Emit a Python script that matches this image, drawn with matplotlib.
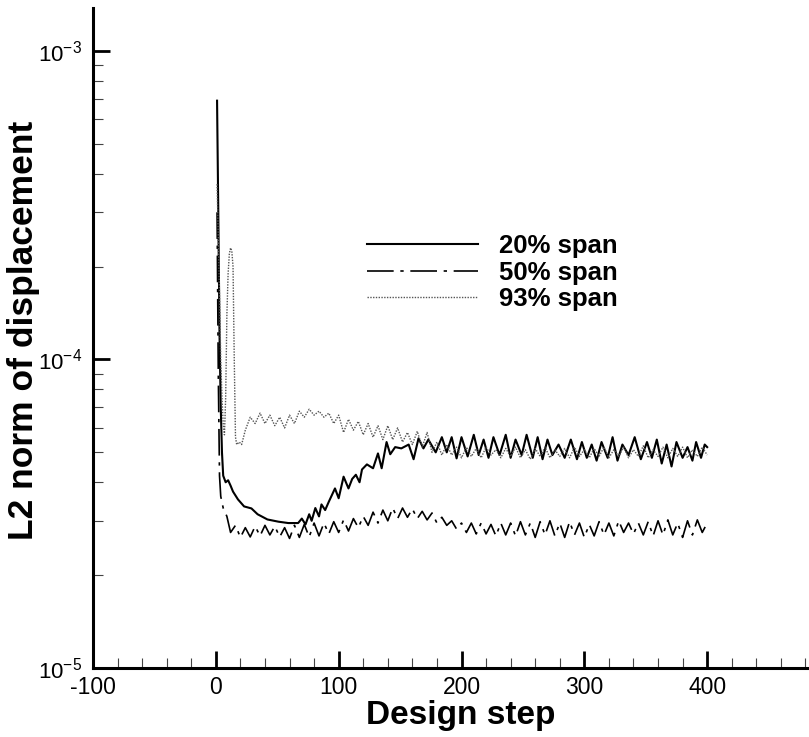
import numpy as np
import matplotlib
matplotlib.use("Agg")
import matplotlib.pyplot as plt
from matplotlib.ticker import MultipleLocator, LogLocator, FuncFormatter

# values, in units of 1e-5
# 20% span
s20_step = [1, 2, 3, 4, 5, 6, 8, 10, 12, 14,
            18, 23, 29, 34, 42, 51, 59, 67, 70, 73,
            76, 78, 81, 84, 86, 89, 92, 97, 100, 104,
            108, 111, 114, 117, 119, 123, 128, 132, 135, 139,
            142, 146, 151, 157, 161, 165, 169, 173, 179, 184,
            188, 192, 196, 200, 205, 210, 214, 218, 222, 226,
            231, 236, 240, 244, 249, 253, 258, 262, 266, 270,
            274, 279, 284, 289, 294, 298, 302, 306, 310, 314,
            319, 323, 327, 331, 336, 341, 346, 351, 355, 359,
            363, 367, 371, 375, 380, 384, 388, 391, 395, 398,
            400]
s20_val = [69, 30, 12, 7.0, 5.0, 4.2, 4.0, 4.06, 3.9, 3.73,
           3.52, 3.34, 3.29, 3.15, 3.03, 2.98, 2.95, 2.95, 3.05, 2.92,
           3.15, 3.0, 3.3, 3.1, 3.39, 3.25, 3.46, 3.82, 3.55, 4.17,
           3.82, 4.1, 4.23, 4.0, 4.4, 4.57, 4.44, 4.96, 4.44, 5.4,
           4.93, 5.2, 5.15, 5.3, 4.75, 5.55, 5.15, 5.5, 5.0, 5.6,
           5.0, 5.6, 4.78, 5.6, 4.85, 5.7, 4.9, 5.5, 4.8, 5.6,
           4.9, 5.7, 4.8, 5.5, 4.9, 5.7, 4.8, 5.6, 4.75, 5.5,
           4.9, 5.3, 4.8, 5.5, 4.75, 5.4, 4.8, 5.3, 4.7, 5.4,
           4.8, 5.6, 4.7, 5.3, 4.9, 5.6, 4.75, 5.4, 4.8, 5.5,
           4.6, 5.3, 4.5, 5.4, 4.8, 5.2, 4.7, 5.4, 4.8, 5.3,
           5.2]

# 50% span
s50_head_step = [1, 2, 3, 4, 6, 9]
s50_head_val = [30, 9, 4.2, 3.6, 3.3, 3.1]
s50_tail_step = list(range(12, 401, 4))
s50_tail_val = [2.75, 2.9, 2.65, 2.85, 2.66, 2.88, 2.68, 2.9, 2.7, 2.88,
                2.66, 2.85, 2.63, 2.9, 2.65, 2.92, 2.66, 2.95, 2.68, 2.95,
                2.72, 2.98, 2.75, 3.02, 2.78, 3.05, 2.85, 3.1, 2.9, 3.2,
                2.95, 3.25, 3.0, 3.3, 3.05, 3.3, 3.08, 3.28, 3.05, 3.22,
                3.02, 3.18, 2.95, 3.08, 2.9, 3.0, 2.82, 2.95, 2.75, 2.95,
                2.72, 2.95, 2.72, 2.92, 2.68, 2.95, 2.7, 2.95, 2.68, 2.98,
                2.7, 2.95, 2.65, 2.98, 2.7, 3.0, 2.68, 2.95, 2.65, 2.98,
                2.7, 2.95, 2.65, 2.92, 2.68, 2.98, 2.7, 2.95, 2.68, 3.0,
                2.75, 2.95, 2.72, 2.95, 2.7, 2.98, 2.68, 3.0, 2.7, 3.02,
                2.7, 2.95, 2.65, 3.0, 2.7, 3.02, 2.75, 2.95]

# 93% span
s93_head_step = [1, 2, 3, 4, 5, 6, 7, 8, 9, 10,
                 11, 12, 13, 14, 15, 16, 17, 19, 21]
s93_head_val = [37, 25, 16, 10, 7.5, 6.2, 5.7, 7.5, 14, 19,
                22, 23, 22.5, 20, 10, 5.6, 5.3, 5.4, 5.3]
s93_tail_step = list(range(24, 401, 4))
s93_tail_val = [5.9, 6.5, 6.2, 6.7, 6.2, 6.6, 6.1, 6.5, 6.0, 6.6,
                6.2, 6.8, 6.5, 6.9, 6.6, 6.8, 6.5, 6.7, 6.2, 6.6,
                5.8, 6.4, 5.9, 6.3, 5.7, 6.2, 5.6, 6.1, 5.5, 6.1,
                5.5, 6.0, 5.4, 5.8, 5.3, 5.85, 5.2, 5.8, 5.0, 5.4,
                4.9, 5.3, 4.9, 5.2, 4.8, 5.2, 4.85, 5.15, 4.8, 5.2,
                4.9, 5.1, 4.8, 5.15, 4.85, 5.2, 4.8, 5.1, 4.75, 5.15,
                4.85, 5.2, 4.8, 5.1, 4.85, 5.15, 4.8, 5.2, 4.85, 5.1,
                4.8, 5.15, 4.85, 5.2, 4.8, 5.1, 4.85, 5.2, 4.8, 5.1,
                4.85, 5.25, 4.8, 5.1, 4.85, 5.2, 4.8, 5.15, 4.85, 5.2,
                4.8, 5.1, 4.85, 5.2, 4.9]

labels = ["20% span", "50% span", "93% span"]

plt.rcParams['font.family'] = ['Liberation Sans', 'DejaVu Sans']
plt.rcParams['mathtext.default'] = 'regular'
plt.rcParams['axes.unicode_minus'] = False

fig = plt.figure(figsize=(8.09, 7.37), dpi=100)
# axis runs to step 500, past the right edge of the picture
ax = fig.add_axes([93 / 809, 69 / 737, (830 - 93) / 809, (668 - 8) / 737])

x20 = np.array(s20_step)
y20 = np.array(s20_val) * 1e-5
x50 = np.array(s50_head_step + s50_tail_step)
y50 = np.array(s50_head_val + s50_tail_val) * 1e-5
x93 = np.array(s93_head_step + s93_tail_step)
y93 = np.array(s93_head_val + s93_tail_val) * 1e-5

ax.plot(x20, y20, color='black', lw=1.5, label=labels[0])
ax.plot(x50, y50, color='black', lw=1.2, dashes=(16, 4, 2, 4), label=labels[1])
ax.plot(x93, y93, color='#555555', lw=1.0, dashes=(1, 1), label=labels[2])

ax.set_yscale('log')
ax.set_xlim(-100, 500)
ax.set_ylim(1e-5, 1.378e-3)

ax.xaxis.set_major_locator(MultipleLocator(100))
ax.xaxis.set_minor_locator(MultipleLocator(20))
# the 500 label falls outside the picture
ax.xaxis.set_major_formatter(FuncFormatter(lambda v, p: '' if v > 450 else '%d' % v))
ax.yaxis.set_minor_locator(LogLocator(base=10, subs=np.arange(2, 10)))

for side in ('top', 'right'):
    ax.spines[side].set_visible(False)
for side in ('left', 'bottom'):
    ax.spines[side].set_linewidth(2.2)

ax.tick_params(which='major', direction='in', length=12, width=2, labelsize=16.5)
ax.tick_params(which='minor', direction='in', length=7, width=0.8, color='#444444')
ax.tick_params(axis='y', which='major', pad=8, labelsize=16)
ax.tick_params(axis='x', which='major', pad=6)

ax.set_xlabel("Design step", fontsize=24, fontweight='bold')
ax.set_ylabel("L2 norm of displacement", fontsize=25.5, fontweight='bold')
ax.xaxis.set_label_coords(461 / 809, 1 - 700 / 737, transform=fig.transFigure)
ax.yaxis.set_label_coords(40 / 809, 1 - 330 / 737, transform=fig.transFigure)

ax.legend(loc='upper left', bbox_to_anchor=(344 / 809, 1 - 211 / 737),
          bbox_transform=fig.transFigure, frameon=False,
          prop={'size': 18.5, 'weight': 'bold'},
          handlelength=4.3, handletextpad=0.85, labelspacing=0.1)

fig.savefig("out.png", dpi=100)
